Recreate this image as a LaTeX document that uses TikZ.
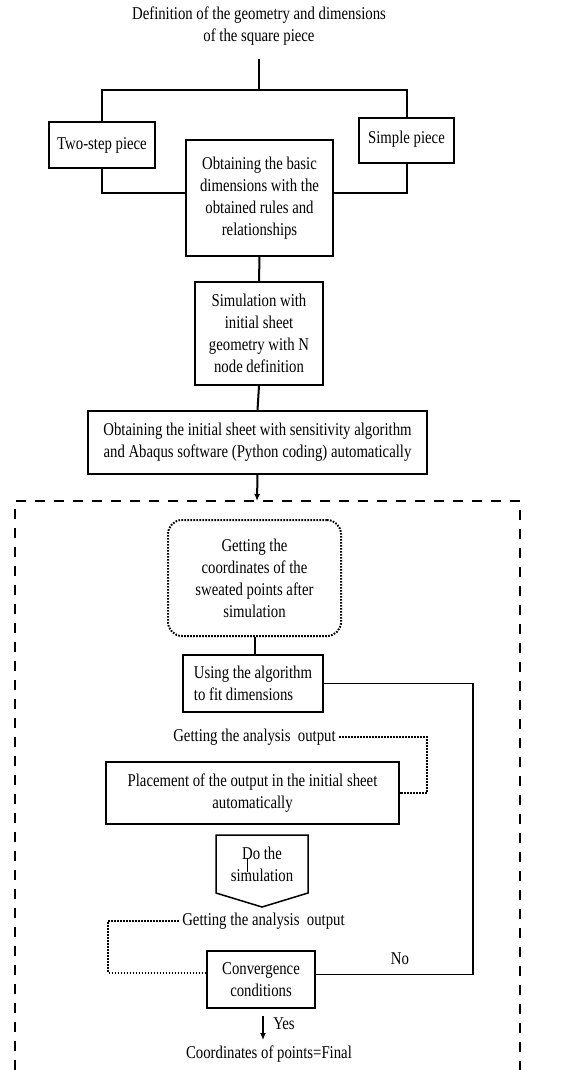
\documentclass[tikz,border=0pt]{standalone}
\usepackage{fontspec}
\setmainfont[FakeStretch=0.82]{Liberation Serif}
\usetikzlibrary{arrows.meta,positioning,calc}

\begin{document}
\begin{tikzpicture}[
x=1pt,y=-1pt,
MyBox/.style={draw,line width=1.5pt,align=center,inner sep=2pt},
Links/.style={draw,line width=2pt},
DotLinks/.style={draw,line width=2pt,dash pattern=on 1.6pt off 1.4pt},
Frame/.style={draw,line width=2pt,dash pattern=on 10pt off 9pt},
every node/.style={font=\fontsize{18}{22}\selectfont}
]
\fill[white] (0,0) rectangle (576,1070);
\useasboundingbox (0,0) rectangle (576,1070);

% Top part: definition and the two pieces
\node (title) [align=center] at (259,26) {Definition of the geometry and dimensions\\of the square piece};
\coordinate (split) at (259,90);
\coordinate (join) at (259,193);

\node[MyBox,minimum width=106pt,minimum height=46pt] (twostep) at (102,145) {Two-step piece};
\node[MyBox,minimum width=95pt,minimum height=45pt,text depth=6pt] (simple) at (406.5,140.5) {Simple piece};
\node[MyBox,minimum width=147pt,minimum height=116pt] (basic) at (259.5,198) {Obtaining the basic\\dimensions with the\\obtained rules and\\relationships};
\node[MyBox,minimum width=128pt,minimum height=103pt] (simnode) at (259,333.5) {Simulation with\\initial sheet\\geometry with N\\node definition};
\node[MyBox,minimum width=339pt,minimum height=63pt] (sheet) at (257.5,442.5) {Obtaining the initial sheet with sensitivity algorithm\\and Abaqus software (Python coding) automatically};

\draw[Links,shorten <=10pt] (title.south) -- (split);
\draw[Links] (twostep.north) |- (split) -| (simple.north);
\draw[Links] (twostep.south) |- (basic.west |- join);
\draw[Links] (simple.south) |- (basic.east |- join);
\draw[Links] (basic.south) -- (simnode.north);
\draw[Links] (simnode.south) -- (sheet.north);

% Dashed frame with the loop
\coordinate (frametop) at (257,501);
\draw[Links,-{Latex[length=7pt,width=6pt]}] (sheet.south) -- (frametop);
\draw[Frame] (15,1070) |- (frametop) -| (520,1070);

\node[MyBox,DotLinks,rounded corners=14pt,minimum width=173pt,minimum height=116pt] (coords) at (254.5,578) {Getting the\\coordinates of the\\sweated points after\\simulation};
\node[MyBox,align=left,minimum width=140pt,minimum height=57pt] (algo) at (253,683.5) {Using the algorithm\\to fit dimensions};
\node (getout) at (254.5,737) {Getting the analysis\ \ output};
\node[MyBox,minimum width=293pt,minimum height=62pt] (placement) at (252.5,793) {Placement of the output in the initial sheet\\automatically};
\node[align=center] (dosim) at (262,864) {Do the\\simulation};
\node (getoutb) at (263.5,921) {Getting the analysis\ \ output};
\node[MyBox,minimum width=108pt,minimum height=57pt] (conv) at (261,979.5) {Convergence\\conditions};
\node (no) at (400,959) {No};
\node (yes) at (284,1024) {Yes};
\node (final) at (269,1054) {Coordinates of points=Final};

\coordinate (noline) at (473,681);
\coordinate (dotright) at (427,737);
\coordinate (dotleft) at (108,921);
\coordinate (yesend) at (263,1040);
\coordinate (convno) at ([yshift=5pt]conv.east);
\coordinate (convdot) at ([yshift=7pt]conv.west);
\coordinate (convyes) at ([xshift=2pt,yshift=-7pt]conv.south);

\draw[Links] (coords.south) -- (coords.south |- algo.north);
\draw[line width=1.3pt] (algo.east) -| (noline |- convno) -- (convno);
\draw[DotLinks] (getout.east) -| (dotright |- placement.east) -- (placement.east);
\draw[DotLinks] (getoutb.west) -| (dotleft |- convdot) -- (convdot);

% off-page shape around the simulation step
\draw[line width=1.5pt] (216,835) -- (308,835) -- (308,893) -- (262,907) -- (216,893) -- cycle;
\draw[thin] (247,858) -- (247,872);

\draw[line width=1.3pt,-{Latex[length=7pt,width=6pt]}] (convyes) -- (yesend);

\end{tikzpicture}
\end{document}
